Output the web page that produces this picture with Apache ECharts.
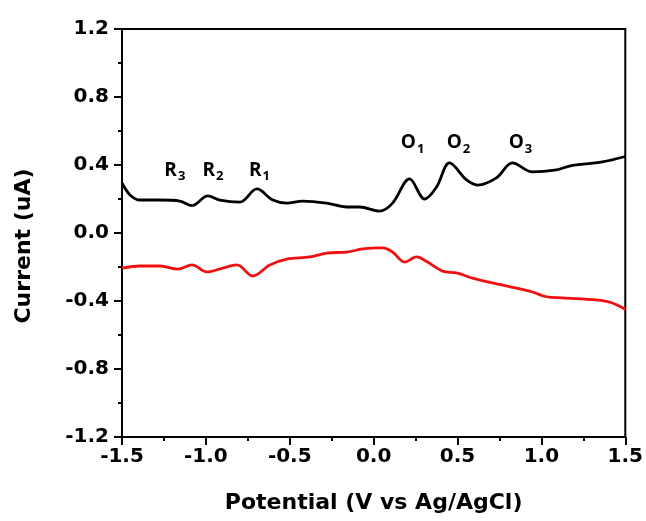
<!DOCTYPE html>
<html>
<head>
<meta charset="utf-8">
<script src="https://cdn.jsdelivr.net/npm/echarts@6/dist/echarts.min.js"></script>
<style>html,body{margin:0;padding:0;background:#fff;}#c{width:646px;height:521px;}</style>
</head>
<body>
<div id="c"></div>
<script>
// Oxidation (upper, black) scan: [potential V, current uA]
var blackPotential = [-1.5,-1.452,-1.393,-1.274,-1.155,-1.083,-0.988,-0.917,-0.798,-0.696,-0.601,-0.518,-0.423,-0.280,-0.161,-0.083,0.036,0.113,0.214,0.304,0.375,0.452,0.554,0.619,0.732,0.827,0.946,1.089,1.167,1.363,1.5];
var blackCurrent   = [0.294,0.224,0.194,0.194,0.188,0.161,0.218,0.194,0.182,0.259,0.194,0.176,0.188,0.176,0.153,0.153,0.129,0.176,0.318,0.200,0.271,0.412,0.312,0.282,0.324,0.412,0.359,0.371,0.394,0.418,0.450];
// Reduction (lower, red) scan
var redPotential = [-1.5,-1.393,-1.274,-1.167,-1.083,-0.994,-0.899,-0.815,-0.720,-0.619,-0.518,-0.381,-0.280,-0.161,-0.065,0.036,0.054,0.113,0.185,0.256,0.321,0.411,0.494,0.589,0.708,0.851,0.946,1.030,1.125,1.327,1.423,1.5];
var redCurrent   = [-0.206,-0.194,-0.194,-0.212,-0.188,-0.229,-0.206,-0.188,-0.253,-0.188,-0.153,-0.141,-0.118,-0.112,-0.094,-0.088,-0.088,-0.112,-0.171,-0.141,-0.171,-0.224,-0.235,-0.265,-0.294,-0.324,-0.347,-0.375,-0.382,-0.394,-0.412,-0.450];
// Peak labels
var peakLetters = ['R','R','R','O','O','O'];
var peakIndex   = ['3','2','1','1','2','3'];
var peakX       = [-1.185,-0.958,-0.680,0.232,0.506,0.875];
var peakY       = [0.37,0.37,0.37,0.53,0.53,0.53];
// Axis ticks
var xTicks = [-1.5,-1.0,-0.5,0.0,0.5,1.0,1.5];
var yTicks = [-1.2,-0.8,-0.4,0.0,0.4,0.8,1.2];

function pairs(a,b){return a.map(function(v,i){return [v,b[i]];});}
var axisFont = 'DejaVu Sans, sans-serif';
var chart = echarts.init(document.getElementById('c'));
var marks = peakX.map(function(x,i){
  return {coord:[x,peakY[i]], value: peakLetters[i]+'|'+peakIndex[i]};
});
chart.setOption({
  animation:false,
  backgroundColor:'#fff',
  grid:{left:122,right:20,top:29,bottom:84,show:true,borderColor:'#000',borderWidth:2,backgroundColor:'transparent'},
  xAxis:{type:'value',min:xTicks[0],max:xTicks[xTicks.length-1],interval:0.5,
    name:'Potential (V vs Ag/AgCl)',nameLocation:'middle',nameGap:55,
    nameTextStyle:{fontFamily:axisFont,fontWeight:'bold',fontSize:22,color:'#000'},
    axisLine:{onZero:false,lineStyle:{color:'#000',width:2}},
    axisTick:{inside:false,length:8,lineStyle:{color:'#000',width:2}},
    minorTick:{show:true,splitNumber:2,length:4,lineStyle:{color:'#000',width:2}},
    splitLine:{show:false},
    axisLabel:{fontFamily:axisFont,fontWeight:'bold',fontSize:20,color:'#000',margin:10,
      formatter:function(v){return v.toFixed(1);}}
  },
  yAxis:{type:'value',min:yTicks[0],max:yTicks[yTicks.length-1],interval:0.4,
    name:'Current (uA)',nameLocation:'middle',nameGap:87,nameRotate:90,
    nameTextStyle:{fontFamily:axisFont,fontWeight:'bold',fontSize:22,color:'#000',padding:[0,26,0,0]},
    axisLine:{onZero:false,lineStyle:{color:'#000',width:2}},
    axisTick:{inside:false,length:8,lineStyle:{color:'#000',width:2}},
    minorTick:{show:true,splitNumber:2,length:4,lineStyle:{color:'#000',width:2}},
    splitLine:{show:false},
    axisLabel:{fontFamily:axisFont,fontWeight:'bold',fontSize:20,color:'#000',margin:13,
      formatter:function(v){return v.toFixed(1);}}
  },
  series:[
    {type:'line',data:pairs(blackPotential,blackCurrent),smooth:0.35,showSymbol:false,
      lineStyle:{color:'#000',width:2.8},
      markPoint:{symbol:'circle',symbolSize:0,
        label:{show:true,position:'inside',
          formatter:function(p){var s=p.value.split('|');return '{b|'+s[0]+'}{s|'+s[1]+'}';},
          rich:{b:{fontFamily:'Open Sans, sans-serif',fontWeight:'bold',fontSize:19,color:'#000',verticalAlign:'bottom'},
                s:{fontFamily:'Open Sans, sans-serif',fontWeight:'bold',fontSize:13,color:'#000',verticalAlign:'bottom',padding:[0,0,-3,1]}}},
        data:marks}
    },
    {type:'line',data:pairs(redPotential,redCurrent),smooth:0.35,showSymbol:false,
      lineStyle:{color:'#f01010',width:2.8}}
  ]
});
</script>
</body>
</html>
